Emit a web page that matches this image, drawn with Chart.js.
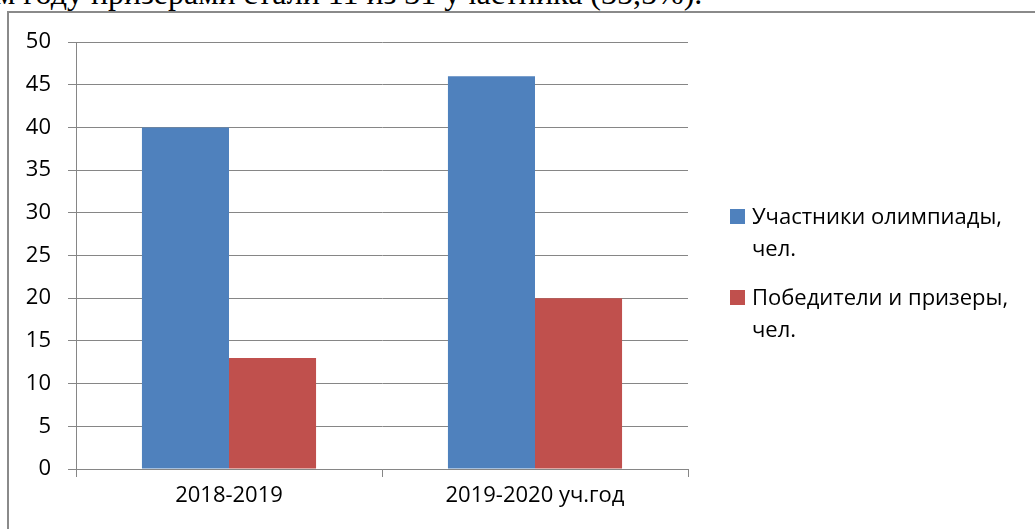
<!DOCTYPE html>
<html>
<head>
<meta charset="utf-8">
<script src="https://cdn.jsdelivr.net/npm/chart.js"></script>
<style>
  html, body { margin: 0; padding: 0; background: #fff; overflow: hidden; }
  body { width: 1035px; height: 529px; position: relative; }
  #textLine {
    position: absolute; left: -5px; top: -23px; white-space: nowrap;
    font-family: "Liberation Serif", "Times New Roman", serif; font-size: 32px; line-height: 32px;
    color: #000;
  }
  #frame {
    position: absolute; left: 7px; top: 11px; width: 1100px; height: 600px;
    border: 2px solid #8a8a8a; box-sizing: border-box;
  }
  #grafico { position: absolute; left: 0; top: 0; }
  .legendItem {
    position: absolute; left: 730px; width: 300px;
    font-family: "Open Sans", sans-serif; font-size: 22px; line-height: 32px; color: #000;
  }
  .legendItem .box { position: absolute; left: 0; top: 10px; width: 15px; height: 15px; }
  .legendItem .txt { position: absolute; left: 22px; top: 0; width: 290px; }
</style>
</head>
<body>
<div id="textLine">м году призерами стали 11 из 31 участника (35,5%).</div>
<div id="frame"></div>
<canvas id="grafico" width="1035" height="529"></canvas>
<div id="legenda"></div>
<script>
// Dados do gráfico
const categorias = ["2018-2019", "2019-2020 уч.год"];
const nomesSeries = ["Участники олимпиады, чел.", "Победители и призеры, чел."];
const participantes = [40, 46];
const vencedores = [13, 20];
const coresSeries = ["#4F81BD", "#C0504D"];
const ticksY = [0, 5, 10, 15, 20, 25, 30, 35, 40, 45, 50];

const corGrade = "#868686";
const fonte = { family: "'Open Sans', sans-serif", size: 22 };

const ctx = document.getElementById("grafico").getContext("2d");
const grafico = new Chart(ctx, {
  type: "bar",
  data: {
    labels: categorias,
    datasets: [
      { label: nomesSeries[0], data: participantes, backgroundColor: coresSeries[0] },
      { label: nomesSeries[1], data: vencedores, backgroundColor: coresSeries[1] }
    ]
  },
  options: {
    responsive: false,
    animation: false,
    devicePixelRatio: 1,
    categoryPercentage: 0.569,
    barPercentage: 1,
    layout: { padding: { left: 0, top: 42, right: 347, bottom: 0 } },
    plugins: {
      legend: { display: false },
      tooltip: { enabled: false }
    },
    scales: {
      x: {
        grid: { drawOnChartArea: false, color: corGrade, tickLength: 8, lineWidth: 1 },
        border: { color: corGrade, width: 1 },
        ticks: { color: "#000", font: fonte, padding: 6 },
        afterFit: (s) => { s.height = 60; }
      },
      y: {
        min: ticksY[0],
        max: ticksY[ticksY.length - 1],
        afterBuildTicks: (s) => { s.ticks = ticksY.map(v => ({ value: v })); },
        grid: { color: corGrade, tickLength: 8, lineWidth: 1 },
        border: { color: corGrade, width: 1 },
        ticks: { color: "#000", font: fonte, padding: 17 },
        afterFit: (s) => { s.width = 76; }
      }
    }
  }
});

// Legenda em HTML (texto quebrado em duas linhas como no original)
const legenda = document.getElementById("legenda");
const topos = [199, 280];
nomesSeries.forEach((nome, i) => {
  const item = document.createElement("div");
  item.className = "legendItem";
  item.style.top = topos[i] + "px";
  const partes = nome.split(" ");
  const ultima = partes.pop();
  item.innerHTML = '<span class="box" style="background:' + coresSeries[i] + '"></span>' +
    '<span class="txt">' + partes.join(" ") + "<br>" + ultima + "</span>";
  legenda.appendChild(item);
});
</script>
</body>
</html>
